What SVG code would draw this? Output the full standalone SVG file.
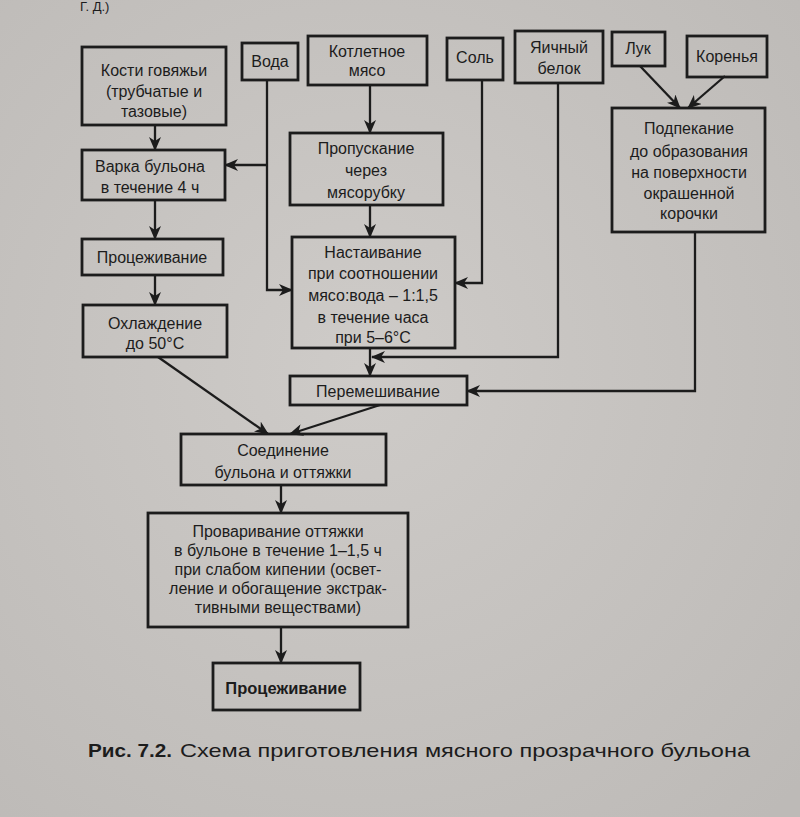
<svg xmlns="http://www.w3.org/2000/svg" width="800" height="817" viewBox="0 0 800 817">
<defs>
<style>
.bx{fill:none;stroke:#1c1c1c;stroke-width:2.8}
.t{font-family:"Liberation Sans",Arial,sans-serif;font-size:16px;fill:#1c1c1c;text-anchor:middle}
.c{fill:none;stroke:#1c1c1c;stroke-width:2.3}
.cap{font-family:"Liberation Sans",Arial,sans-serif;font-size:19px;fill:#1c1c1c}
</style>
<marker id="ah" markerUnits="userSpaceOnUse" markerWidth="14" markerHeight="12" refX="13" refY="6" orient="auto">
<path d="M0,0 L14,6 L0,12 L4,6 Z" fill="#1c1c1c"/>
</marker>
<radialGradient id="bg" cx="0.45" cy="0.45" r="0.75">
<stop offset="0" stop-color="#cecbc8"/>
<stop offset="1" stop-color="#bdbab7"/>
</radialGradient>
</defs>
<rect width="800" height="817" fill="url(#bg)"/>
<text class="cap" x="80" y="11" style="font-size:13px">Г. Д.)</text>

<g id="connectors">
<line class="c" x1="155" y1="125" x2="155" y2="150" marker-end="url(#ah)"/>
<polyline class="c" points="267,80 267,290 292,290" marker-end="url(#ah)"/>
<line class="c" x1="267" y1="165" x2="225" y2="165" marker-end="url(#ah)"/>
<line class="c" x1="370" y1="85" x2="370" y2="133" marker-end="url(#ah)"/>
<line class="c" x1="370" y1="205" x2="370" y2="237" marker-end="url(#ah)"/>
<polyline class="c" points="482,80 482,283 455,283" marker-end="url(#ah)"/>
<polyline class="c" points="558,83 558,357 372,357" marker-end="url(#ah)"/>
<line class="c" x1="640" y1="66" x2="680" y2="108" marker-end="url(#ah)"/>
<line class="c" x1="725" y1="76" x2="688" y2="108" marker-end="url(#ah)"/>
<polyline class="c" points="695,232 695,391 467,391" marker-end="url(#ah)"/>
<line class="c" x1="370" y1="348" x2="370" y2="376" marker-end="url(#ah)"/>
<line class="c" x1="155" y1="200" x2="155" y2="239" marker-end="url(#ah)"/>
<line class="c" x1="155" y1="275" x2="155" y2="305" marker-end="url(#ah)"/>
<line class="c" x1="158" y1="357" x2="268" y2="434" marker-end="url(#ah)"/>
<line class="c" x1="380" y1="405" x2="290" y2="434" marker-end="url(#ah)"/>
<line class="c" x1="281" y1="485" x2="281" y2="513" marker-end="url(#ah)"/>
<line class="c" x1="281" y1="627" x2="281" y2="663" marker-end="url(#ah)"/>
</g>

<g id="kosti"><rect class="bx" x="82" y="47" width="144" height="78"/>
<text class="t" x="154" y="76">Кости говяжьи</text>
<text class="t" x="154" y="97">(трубчатые и</text>
<text class="t" x="154" y="117">тазовые)</text></g>

<g id="voda"><rect class="bx" x="242" y="43" width="56" height="37"/>
<text class="t" x="270" y="67">Вода</text></g>

<g id="kotletnoe"><rect class="bx" x="308" y="36" width="119" height="49"/>
<text class="t" x="367" y="57">Котлетное</text>
<text class="t" x="367" y="76">мясо</text></g>

<g id="sol"><rect class="bx" x="447" y="38" width="56" height="42"/>
<text class="t" x="475" y="63">Соль</text></g>

<g id="belok"><rect class="bx" x="515" y="31" width="88" height="52"/>
<text class="t" x="559" y="53">Яичный</text>
<text class="t" x="559" y="74">белок</text></g>

<g id="luk"><rect class="bx" x="612" y="32" width="53" height="34"/>
<text class="t" x="638" y="54">Лук</text></g>

<g id="korenya"><rect class="bx" x="687" y="36" width="80" height="41"/>
<text class="t" x="727" y="62">Коренья</text></g>

<g id="varka"><rect class="bx" x="82" y="150" width="143" height="50"/>
<text class="t" x="150" y="172">Варка бульона</text>
<text class="t" x="150" y="193">в течение 4 ч</text></g>

<g id="propuskanie"><rect class="bx" x="290" y="133" width="153" height="72"/>
<text class="t" x="366" y="154">Пропускание</text>
<text class="t" x="366" y="176">через</text>
<text class="t" x="366" y="198">мясорубку</text></g>

<g id="podpekanie"><rect class="bx" x="612" y="108" width="153" height="124"/>
<text class="t" x="689" y="134">Подпекание</text>
<text class="t" x="689" y="157">до образования</text>
<text class="t" x="689" y="178">на поверхности</text>
<text class="t" x="689" y="199">окрашенной</text>
<text class="t" x="689" y="219">корочки</text></g>

<g id="procezh1"><rect class="bx" x="82" y="239" width="141" height="36"/>
<text class="t" x="152" y="263">Процеживание</text></g>

<g id="nastaivanie"><rect class="bx" x="292" y="237" width="163" height="111"/>
<text class="t" x="373" y="258">Настаивание</text>
<text class="t" x="373" y="279">при соотношении</text>
<text class="t" x="373" y="301">мясо:вода – 1:1,5</text>
<text class="t" x="373" y="323">в течение часа</text>
<text class="t" x="373" y="343">при 5–6°С</text></g>

<g id="ohlazhdenie"><rect class="bx" x="83" y="305" width="144" height="52"/>
<text class="t" x="155" y="329">Охлаждение</text>
<text class="t" x="155" y="349">до 50°С</text></g>

<g id="peremeshivanie"><rect class="bx" x="290" y="376" width="177" height="29"/>
<text class="t" x="378" y="397">Перемешивание</text></g>

<g id="soedinenie"><rect class="bx" x="181" y="434" width="205" height="51"/>
<text class="t" x="283" y="456">Соединение</text>
<text class="t" x="283" y="478">бульона и оттяжки</text></g>

<g id="provarivanie"><rect class="bx" x="148" y="513" width="260" height="114"/>
<text class="t" x="278" y="537">Проваривание оттяжки</text>
<text class="t" x="278" y="556">в бульоне в течение 1–1,5 ч</text>
<text class="t" x="278" y="575">при слабом кипении (освет-</text>
<text class="t" x="278" y="594">ление и обогащение экстрак-</text>
<text class="t" x="278" y="613">тивными веществами)</text></g>

<g id="procezh2"><rect class="bx" x="213" y="663" width="147" height="47"/>
<text class="t" x="286" y="694" style="font-weight:bold;font-size:16.5px">Процеживание</text></g>

<g id="caption">
<text class="cap" x="88" y="757" style="font-weight:bold" textLength="84" lengthAdjust="spacingAndGlyphs">Рис. 7.2.</text>
<text class="cap" x="180" y="757" textLength="570" lengthAdjust="spacingAndGlyphs">Схема приготовления мясного прозрачного бульона</text>
</g>
</svg>
